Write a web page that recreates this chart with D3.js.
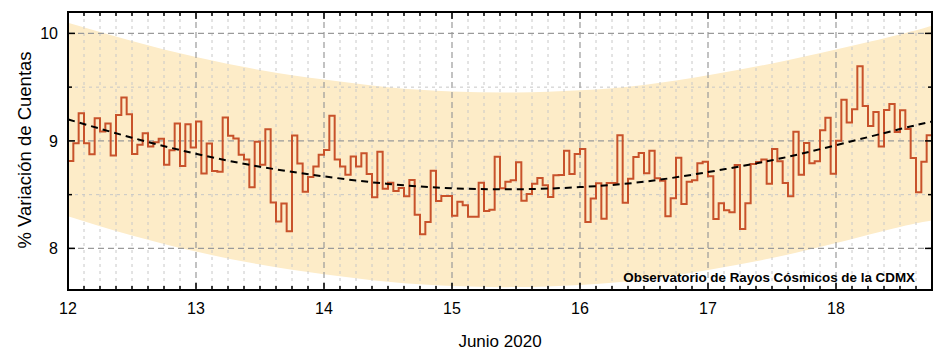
<!DOCTYPE html>
<html><head><meta charset="utf-8">
<script src="https://cdn.jsdelivr.net/npm/d3@7"></script>
<style>body{margin:0;background:#fff}svg{display:block}</style>
</head><body>
<svg id="c" width="946" height="355"></svg>
<script>
// ---- data ----
const startDay = 12;          // first hourly value starts at 12 June 00:00
const hoursPerDay = 24;
const hourly = [
  8.814, 8.978, 9.257, 8.978, 8.876, 9.211, 9.087, 9.161, 8.864, 9.242, 9.403, 9.248,
  8.879, 8.963, 9.071, 8.947, 8.988, 9.019, 8.777, 8.913, 9.161, 8.767, 9.155, 8.938,
  9.180, 8.696, 8.975, 8.721, 8.712, 9.217, 9.047, 9.022, 8.870, 8.826, 8.569, 8.991,
  8.777, 9.109, 8.426, 8.250, 8.417, 8.160, 9.050, 8.789, 8.526, 8.665, 8.761, 8.870,
  8.916, 9.233, 8.826, 8.761, 8.684, 8.854, 8.761, 8.884, 8.692, 8.475, 8.900, 8.556,
  8.611, 8.534, 8.562, 8.484, 8.636, 8.313, 8.131, 8.246, 8.723, 8.441, 8.487, 8.487,
  8.304, 8.435, 8.401, 8.295, 8.295, 8.611, 8.348, 8.360, 8.853, 8.559, 8.621, 8.633,
  8.801, 8.444, 8.506, 8.602, 8.655, 8.587, 8.478, 8.680, 8.683, 8.909, 8.692, 8.878,
  8.925, 8.246, 8.463, 8.605, 8.276, 8.608, 8.608, 9.052, 8.425, 8.648, 8.850, 8.887,
  8.698, 8.909, 8.652, 8.630, 8.298, 8.466, 8.844, 8.413, 8.621, 8.633, 8.791, 8.807,
  8.670, 8.273, 8.419, 8.354, 8.336, 8.776, 8.180, 8.419, 8.785, 8.803, 8.828, 8.602,
  8.925, 8.810, 8.608, 8.484, 9.086, 8.686, 8.980, 8.791, 8.810, 9.098, 9.216, 8.695,
  9.002, 9.383, 9.170, 9.294, 9.694, 9.325, 9.139, 9.269, 8.949, 9.287, 9.343, 9.083,
  9.284, 9.110, 8.841, 8.522, 8.807, 9.052
];
const fitDays   = [12, 12.5, 13, 13.5, 14, 14.5, 15, 15.5, 16, 16.5, 17, 17.5, 18, 18.5, 18.75];
const fitVals   = [9.20, 9.03, 8.88, 8.76, 8.67, 8.60, 8.56, 8.55, 8.57, 8.62, 8.71, 8.82, 8.96, 9.11, 9.18];
const bandUpper = [10.10, 9.93, 9.78, 9.66, 9.57, 9.50, 9.46, 9.45, 9.47, 9.52, 9.61, 9.72, 9.85, 9.99, 10.07];
const bandLower = [8.30, 8.12, 7.97, 7.85, 7.76, 7.69, 7.65, 7.64, 7.66, 7.71, 7.80, 7.91, 8.05, 8.20, 8.26];
const xTicks = [12, 13, 14, 15, 16, 17, 18];
const yTicks = [8, 9, 10];
const xDomain = [12, 18.75];
const yDomain = [7.613, 10.199];
const xTitle = "Junio 2020";
const yTitle = "% Variación de Cuentas";
const note = "Observatorio de Rayos Cósmicos de la CDMX";

// ---- layout ----
const L = 68, R = 932, T = 12, B = 290;
const svg = d3.select("#c");
const x = d3.scaleLinear().domain(xDomain).range([L, R]);
const y = d3.scaleLinear().domain(yDomain).range([B, T]);
const font = "'Liberation Sans', Arial, sans-serif";

svg.append("defs").append("clipPath").attr("id", "clip")
  .append("rect").attr("x", L).attr("y", T).attr("width", R - L).attr("height", B - T);

const plot = svg.append("g").attr("clip-path", "url(#clip)");

// band
const bandData = fitDays.map((d, i) => ({d, u: bandUpper[i], l: bandLower[i]}));
plot.append("path").datum(bandData)
  .attr("fill", "#fdecc8")
  .attr("d", d3.area().curve(d3.curveNatural).x(p => x(p.d)).y0(p => y(p.l)).y1(p => y(p.u)));

// minor grid (every 3 hours, every 0.5)
const minorX = d3.range(xDomain[0] * 8, xDomain[1] * 8 + 0.001).map(v => v / 8).filter(v => !Number.isInteger(v));
const minorY = d3.range(Math.ceil(yDomain[0] * 2), Math.floor(yDomain[1] * 2) + 1).map(v => v / 2).filter(v => !Number.isInteger(v));
plot.append("g").selectAll("line").data(minorX).join("line")
  .attr("x1", d => x(d)).attr("x2", d => x(d)).attr("y1", T).attr("y2", B)
  .attr("stroke", "#c8c8c8").attr("stroke-width", 1).attr("stroke-dasharray", "3,4");
plot.append("g").selectAll("line").data(minorY).join("line")
  .attr("y1", d => y(d)).attr("y2", d => y(d)).attr("x1", L).attr("x2", R)
  .attr("stroke", "#c8c8c8").attr("stroke-width", 1).attr("stroke-dasharray", "3,4");
// major grid
plot.append("g").selectAll("line").data(xTicks).join("line")
  .attr("x1", d => x(d)).attr("x2", d => x(d)).attr("y1", T).attr("y2", B)
  .attr("stroke", "#9a9a9a").attr("stroke-width", 1.2).attr("stroke-dasharray", "6,4");
plot.append("g").selectAll("line").data(yTicks).join("line")
  .attr("y1", d => y(d)).attr("y2", d => y(d)).attr("x1", L).attr("x2", R)
  .attr("stroke", "#9a9a9a").attr("stroke-width", 1.2).attr("stroke-dasharray", "6,4");

// step line
const pts = hourly.map((v, i) => [startDay + i / hoursPerDay, v]);
pts.push([startDay + hourly.length / hoursPerDay, hourly[hourly.length - 1]]);
plot.append("path").datum(pts)
  .attr("fill", "none").attr("stroke", "#c8522b").attr("stroke-width", 2)
  .attr("d", d3.line().curve(d3.curveStepAfter).x(p => x(p[0])).y(p => y(p[1])));

// fit dashed
plot.append("path").datum(fitDays.map((d, i) => [d, fitVals[i]]))
  .attr("fill", "none").attr("stroke", "#000").attr("stroke-width", 2).attr("stroke-dasharray", "7,5")
  .attr("d", d3.line().curve(d3.curveNatural).x(p => x(p[0])).y(p => y(p[1])));

// axes with inward ticks on all sides
function ticks(g, vals, len, side) {
  g.selectAll(null).data(vals).join("line").each(function(d) {
    const s = d3.select(this).attr("stroke", "#000").attr("stroke-width", 1.5);
    if (side === "b") s.attr("x1", x(d)).attr("x2", x(d)).attr("y1", B).attr("y2", B - len);
    if (side === "t") s.attr("x1", x(d)).attr("x2", x(d)).attr("y1", T).attr("y2", T + len);
    if (side === "l") s.attr("y1", y(d)).attr("y2", y(d)).attr("x1", L).attr("x2", L + len);
    if (side === "r") s.attr("y1", y(d)).attr("y2", y(d)).attr("x1", R).attr("x2", R - len);
  });
}
const tg = svg.append("g");
ticks(tg, minorX, 4, "b"); ticks(tg, minorX, 4, "t");
ticks(tg, xTicks, 7, "b"); ticks(tg, xTicks, 7, "t");
ticks(tg, minorY, 4, "l"); ticks(tg, minorY, 4, "r");
ticks(tg, yTicks, 7, "l"); ticks(tg, yTicks, 7, "r");

svg.append("rect").attr("x", L).attr("y", T).attr("width", R - L).attr("height", B - T)
  .attr("fill", "none").attr("stroke", "#000").attr("stroke-width", 2);

// labels
svg.append("g").selectAll("text").data(xTicks).join("text")
  .attr("x", d => x(d)).attr("y", 314).attr("text-anchor", "middle")
  .attr("font-family", font).attr("font-size", 16).attr("fill", "#000").text(d => d);
svg.append("g").selectAll("text").data(yTicks).join("text")
  .attr("x", 58).attr("y", d => y(d) + 5.7).attr("text-anchor", "end")
  .attr("font-family", font).attr("font-size", 16).attr("fill", "#000").text(d => d);

svg.append("text").attr("x", (L + R) / 2).attr("y", 347).attr("text-anchor", "middle")
  .attr("font-family", font).attr("font-size", 17).attr("fill", "#000").text(xTitle);
svg.append("text").attr("transform", `translate(31,${(T + B) / 2 - 1}) rotate(-90)`).attr("text-anchor", "middle")
  .attr("font-family", font).attr("font-size", 18.5).attr("fill", "#000").text(yTitle);

svg.append("text").attr("x", 915).attr("y", 282).attr("text-anchor", "end")
  .attr("font-family", font).attr("font-size", 13.4).attr("font-weight", "bold").attr("fill", "#000").text(note);
</script>
</body></html>
